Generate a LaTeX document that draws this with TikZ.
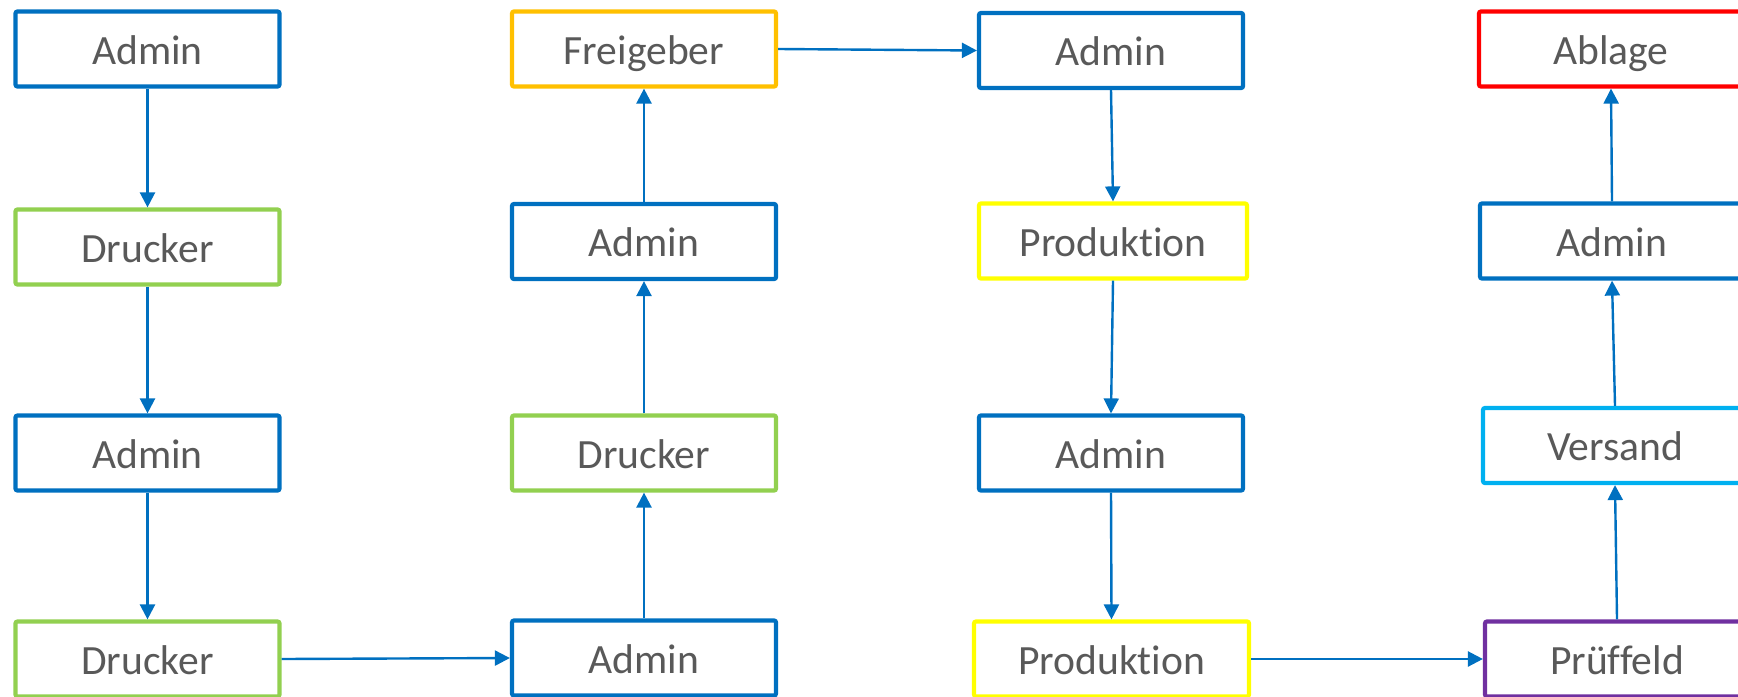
\documentclass[tikz,border=0pt]{standalone}
\usepackage{fontspec}
\setmainfont{Carlito}[Ligatures=NoCommon]
\usetikzlibrary{arrows.meta}

\definecolor{adminblue}{HTML}{0070C0}
\definecolor{druckergreen}{HTML}{92D050}
\definecolor{freigold}{HTML}{FFC000}
\definecolor{prodyellow}{HTML}{FFFF00}
\definecolor{ablagered}{HTML}{FF0000}
\definecolor{versandcyan}{HTML}{00B0F0}
\definecolor{pruefpurple}{HTML}{7030A0}
\definecolor{labelgray}{HTML}{595959}

\tikzset{
  box/.style={draw=#1, line width=2.1pt, rounded corners=1pt, fill=white,
    minimum width=132pt, minimum height=37.5pt, inner sep=0pt,
    text=labelgray, font=\fontsize{20.8pt}{24pt}\selectfont,
    text height=18.5pt, text depth=3.3pt},
  flow/.style={draw=adminblue, line width=1.2pt,
    -{Triangle[length=7.5pt,width=7.5pt]}}
}

\begin{document}
\begin{tikzpicture}[x=0.5pt,y=-0.5pt]
  \useasboundingbox (0,0) rectangle (1738,696);
  \clip (0,0) rectangle (1738,696);

  % first column, top to bottom
  \node[box=adminblue] (a1) at (147.5,49) {Admin};
  \node[box=druckergreen] (d1) at (147.5,247) {Drucker};
  \node[box=adminblue] (a2) at (147.5,453) {Admin};
  \node[box=druckergreen] (d2) at (147.5,659) {Drucker};

  % second column, bottom to top
  \node[box=adminblue] (a3) at (644,658) {Admin};
  \node[box=druckergreen] (d3) at (644,453) {Drucker};
  \node[box=adminblue] (a4) at (644,241.5) {Admin};
  \node[box=freigold] (fg) at (644,49) {Freigeber};

  % third column, top to bottom
  \node[box=adminblue] (a5) at (1111,50.5) {Admin};
  \node[box=prodyellow, minimum width=134pt] (p1) at (1113,241) {Produktion};
  \node[box=adminblue] (a6) at (1111,453) {Admin};
  \node[box=prodyellow, minimum width=137.5pt] (p2) at (1111.5,659) {Produktion};

  % fourth column, bottom to top
  \node[box=pruefpurple] (pf) at (1617,659) {Prüffeld};
  \node[box=versandcyan] (vs) at (1615,445.5) {Versand};
  \node[box=adminblue] (a7) at (1612,241) {Admin};
  \node[box=ablagered] (ab) at (1611,49) {Ablage};

  \draw[flow] (a1.south) -- (d1.north);
  \draw[flow] (d1.south) -- (a2.north);
  \draw[flow] (a2.south) -- (d2.north);
  \draw[flow] (d2.east) -- (a3.west);

  \draw[flow] (a3.north) -- (d3.south);
  \draw[flow] (d3.north) -- (a4.south);
  \draw[flow] (a4.north) -- (fg.south);
  \draw[flow] (fg.east) -- (a5.west);

  \draw[flow] (a5.south) -- (p1.north);
  \draw[flow] (p1.south) -- (a6.north);
  \draw[flow] (a6.south) -- (p2.north);
  \draw[flow] (p2.east) -- (pf.west);

  \draw[flow] (pf.north) -- (vs.south);
  \draw[flow] (vs.north) -- (a7.south);
  \draw[flow] (a7.north) -- (ab.south);
\end{tikzpicture}
\end{document}
